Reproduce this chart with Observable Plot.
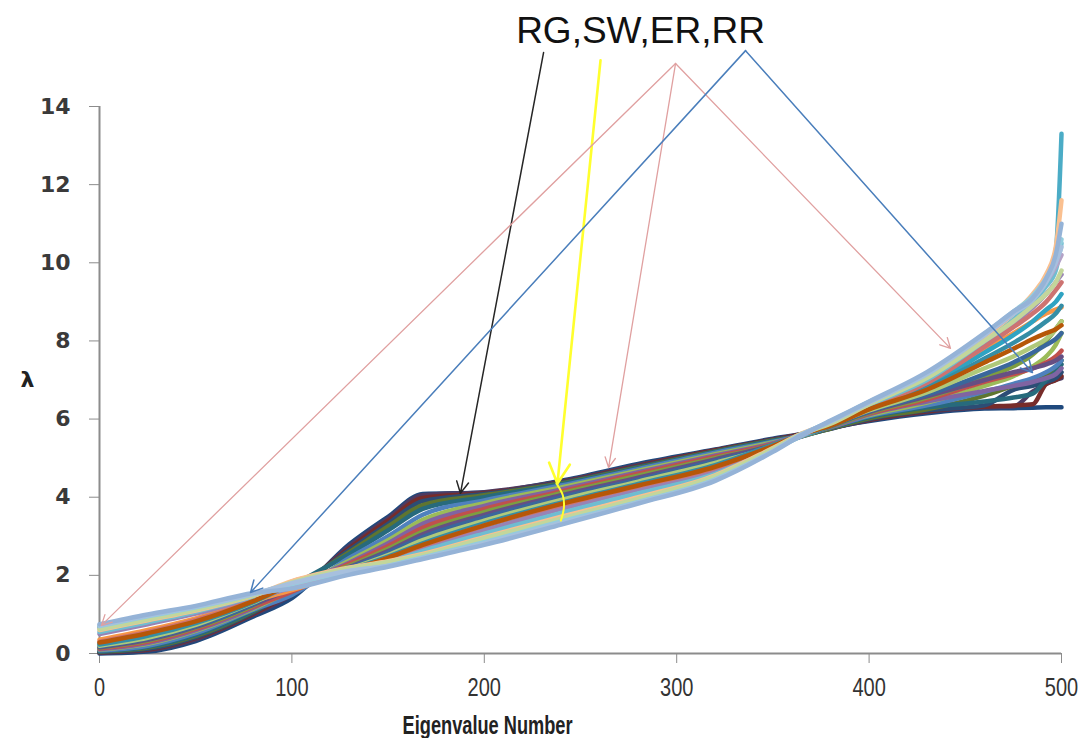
<!DOCTYPE html>
<html>
<head>
<meta charset="utf-8">
<script src="https://cdn.jsdelivr.net/npm/d3@7"></script>
<script src="https://cdn.jsdelivr.net/npm/@observablehq/plot@0.6"></script>
<style>
  html, body { margin: 0; padding: 0; background: #fff; }
  #chart svg { display: block; }
</style>
</head>
<body>
<div id="chart"></div>
<script>
// Eigenvalue index at which each spectrum is sampled
const eigenIndex = [0, 25, 50, 80, 100, 130, 150, 168, 200, 240, 280, 320, 350, 365, 380, 400, 430, 460, 475, 485, 492, 497, 500];

// Random geometric graphs
const rgSpectra = [
  [0, 0.05, 0.32, 0.95, 1.42, 2.8, 3.5, 4.08, 4.12, 4.42, 4.85, 5.22, 5.5, 5.62, 5.78, 5.95, 6.15, 6.27, 6.28, 6.29, 6.3, 6.3, 6.3],
  [0.02, 0.08, 0.36, 1.0, 1.5, 2.75, 3.45, 4.05, 4.13, 4.4, 4.82, 5.2, 5.48, 5.6, 5.76, 5.97, 6.18, 6.3, 6.32, 6.7, 6.9, 7.0, 7.05],
  [0.03, 0.1, 0.4, 1.02, 1.55, 2.7, 3.4, 3.98, 4.1, 4.38, 4.8, 5.2, 5.47, 5.61, 5.77, 5.98, 6.2, 6.32, 6.35, 6.38, 6.9, 7.0, 7.1],
  [0.04, 0.12, 0.42, 1.05, 1.6, 2.65, 3.32, 3.9, 4.08, 4.37, 4.78, 5.18, 5.46, 5.58, 5.75, 6.0, 6.22, 6.35, 6.75, 6.85, 6.95, 7.05, 7.2],
  [0.05, 0.15, 0.45, 1.08, 1.66, 2.6, 3.25, 3.8, 4.05, 4.35, 4.76, 5.17, 5.45, 5.57, 5.76, 6.02, 6.25, 6.6, 6.85, 7.0, 7.15, 7.3, 7.5],
  [0.06, 0.17, 0.48, 1.1, 1.72, 2.55, 3.15, 3.7, 4.0, 4.33, 4.74, 5.16, 5.44, 5.56, 5.78, 6.05, 6.3, 6.45, 6.55, 6.65, 7.0, 7.2, 7.4]
];

// Small-world graphs
const swSpectra = [
  [0.08, 0.2, 0.52, 1.12, 1.5, 2.45, 3.0, 3.55, 3.92, 4.3, 4.72, 5.14, 5.42, 5.58, 5.8, 6.08, 6.35, 6.7, 6.9, 7.05, 7.2, 7.35, 7.5],
  [0.1, 0.25, 0.58, 1.15, 1.62, 2.38, 2.9, 3.42, 3.85, 4.25, 4.68, 5.1, 5.4, 5.56, 5.82, 6.1, 6.42, 6.85, 7.1, 7.35, 7.6, 7.9, 8.2],
  [0.11, 0.27, 0.6, 1.17, 1.7, 2.33, 2.82, 3.32, 3.78, 4.2, 4.64, 5.07, 5.38, 5.6, 5.79, 6.12, 6.45, 6.72, 6.85, 6.95, 7.05, 7.15, 7.3],
  [0.13, 0.3, 0.63, 1.2, 1.58, 2.3, 2.75, 3.22, 3.7, 4.15, 4.6, 5.04, 5.36, 5.57, 5.83, 6.14, 6.5, 6.95, 7.15, 7.3, 7.45, 7.6, 7.75],
  [0.15, 0.33, 0.66, 1.23, 1.75, 2.25, 2.68, 3.12, 3.62, 4.1, 4.55, 5.0, 5.34, 5.59, 5.81, 6.16, 6.55, 7.05, 7.35, 7.65, 8.0, 8.3, 8.5],
  [0.16, 0.35, 0.68, 1.25, 1.66, 2.22, 2.62, 3.05, 3.55, 4.05, 4.5, 4.97, 5.33, 5.56, 5.84, 6.18, 6.58, 7.0, 7.2, 7.3, 7.4, 7.5, 7.6],
  [0.18, 0.38, 0.7, 1.27, 1.8, 2.2, 2.58, 2.98, 3.48, 4.0, 4.45, 4.93, 5.31, 5.58, 5.82, 6.2, 6.62, 7.15, 7.45, 7.7, 7.9, 8.05, 8.2],
  [0.2, 0.4, 0.73, 1.3, 1.72, 2.17, 2.52, 2.9, 3.4, 3.93, 4.4, 4.88, 5.3, 5.57, 5.85, 6.22, 6.68, 7.3, 7.6, 7.85, 8.05, 8.3, 8.5]
];

// Erdos-Renyi graphs
const erSpectra = [
  [0.35, 0.6, 0.9, 1.35, 1.62, 2.14, 2.46, 2.8, 3.3, 3.85, 4.32, 4.8, 5.32, 5.6, 5.86, 6.3, 6.9, 7.8, 8.2, 8.5, 8.7, 8.8, 8.86],
  [0.25, 0.5, 0.8, 1.33, 1.74, 2.12, 2.43, 2.75, 3.25, 3.8, 4.28, 4.76, 5.29, 5.57, 5.84, 6.28, 6.85, 7.7, 8.15, 8.5, 8.8, 9.0, 9.2],
  [0.23, 0.45, 0.78, 1.32, 1.8, 2.15, 2.48, 2.82, 3.33, 3.86, 4.34, 4.82, 5.34, 5.61, 5.87, 6.26, 6.8, 7.55, 7.95, 8.25, 8.5, 8.7, 8.9],
  [0.5, 0.75, 1.02, 1.42, 1.68, 2.1, 2.38, 2.68, 3.15, 3.7, 4.2, 4.68, 5.24, 5.58, 5.88, 6.33, 6.95, 7.9, 8.45, 8.85, 9.2, 9.5, 9.7],
  [0.3, 0.55, 0.86, 1.36, 1.84, 2.12, 2.44, 2.76, 3.27, 3.8, 4.28, 4.75, 5.3, 5.6, 5.86, 6.3, 6.92, 7.85, 8.35, 8.7, 9.0, 9.3, 9.5],
  [0.55, 0.8, 1.07, 1.45, 1.7, 2.08, 2.34, 2.62, 3.07, 3.6, 4.1, 4.6, 5.22, 5.57, 5.9, 6.36, 7.0, 8.0, 8.55, 9.0, 9.4, 9.8, 10.5],
  [0.28, 0.52, 0.82, 1.34, 1.76, 2.13, 2.45, 2.78, 3.28, 3.83, 4.3, 4.78, 5.31, 5.61, 5.83, 6.25, 6.75, 7.45, 7.8, 8.05, 8.2, 8.3, 8.4]
];

// Random regular graphs
const rrSpectra = [
  [0.68, 0.93, 1.17, 1.52, 1.7, 2.06, 2.26, 2.48, 2.88, 3.4, 3.9, 4.48, 5.2, 5.6, 5.92, 6.43, 7.15, 8.17, 8.72, 9.12, 9.6, 10.3, 13.3],
  [0.6, 0.85, 1.1, 1.48, 1.85, 2.2, 2.36, 2.55, 2.98, 3.5, 4.0, 4.56, 5.26, 5.63, 5.9, 6.4, 7.1, 8.1, 8.7, 9.2, 9.7, 10.4, 11.6],
  [0.65, 0.9, 1.15, 1.5, 1.72, 2.08, 2.28, 2.5, 2.9, 3.42, 3.94, 4.5, 5.22, 5.58, 5.94, 6.42, 7.12, 8.15, 8.7, 9.1, 9.5, 9.9, 10.2],
  [0.62, 0.87, 1.12, 1.49, 1.82, 2.18, 2.34, 2.52, 2.95, 3.46, 3.96, 4.54, 5.24, 5.62, 5.88, 6.38, 7.05, 8.0, 8.5, 8.9, 9.2, 9.5, 9.8],
  [0.7, 0.95, 1.18, 1.52, 1.78, 2.1, 2.25, 2.46, 2.85, 3.38, 3.88, 4.46, 5.18, 5.6, 5.95, 6.44, 7.15, 8.18, 8.75, 9.15, 9.6, 10.1, 10.6],
  [0.72, 0.97, 1.2, 1.53, 1.8, 2.12, 2.24, 2.44, 2.82, 3.34, 3.86, 4.44, 5.18, 5.61, 5.93, 6.42, 7.15, 8.15, 8.7, 9.05, 9.5, 10.0, 10.4],
  [0.75, 1.0, 1.22, 1.55, 1.66, 2.02, 2.22, 2.42, 2.78, 3.3, 3.84, 4.42, 5.16, 5.59, 5.96, 6.45, 7.2, 8.2, 8.75, 9.1, 9.6, 10.2, 11.0]
];

// Axis ticks
const xTicks = [0, 100, 200, 300, 400, 500];
const yTicks = [0, 2, 4, 6, 8, 10, 12, 14];

// Callout: label and pointer arrows (start -> end, in data units)
const calloutText = "RG,SW,ER,RR";
const calloutPos = [281.2, 15.92];
const pointerX1 = [230.8, 260.4, 299.4, 299.4, 299.4, 335.8, 335.8];
const pointerY1 = [15.38, 15.18, 15.10, 15.10, 15.10, 15.43, 15.43];
const pointerX2 = [187.6, 238.0, 1.0, 264.6, 442.3, 78.5, 484.9];
const pointerY2 = [4.10, 4.35, 0.72, 4.76, 7.81, 1.56, 7.19];
const braceX = [237.5, 240.8, 241.3, 239.8];
const braceY = [4.35, 4.05, 3.7, 3.4];

// Styling
const familyColors = [
  ["#1F497D", "#4D3B62", "#772C2A", "#2C4D75", "#5F7530", "#276A7C"],
  ["#4F81BD", "#9BBB59", "#8064A2", "#C0504D", "#7E9D40", "#664F83", "#3A679C", "#AFC97A"],
  ["#F79646", "#2FA3C2", "#358EA6", "#9983B5", "#CD7371", "#6FBDD1", "#B65708"],
  ["#4BACC6", "#FAC090", "#B3A2C7", "#C3D69B", "#93CDDD", "#A7C0DE", "#95B3D7"]
];
const pointerStroke = ["#262626", "#FFFF2E", "#E0A0A0", "#E0A0A0", "#E0A0A0", "#4A7EBB", "#4A7EBB"];
const pointerWidth = [1.5, 2.6, 1.3, 1.3, 1.3, 1.5, 1.5];

const families = [rgSpectra, swSpectra, erSpectra, rrSpectra];

const spectrumLines = families.flatMap((fam, f) =>
  fam.map((vals, i) =>
    Plot.line(vals, {
      x: (d, j) => eigenIndex[j],
      y: d => d,
      stroke: familyColors[f][i],
      strokeWidth: 4.5,
      strokeLinejoin: "round",
      strokeLinecap: "round",
      curve: "monotone-x"
    })
  )
);

const pointers = pointerX1.map((_, i) =>
  Plot.arrow([i], {
    x1: k => pointerX1[k],
    y1: k => pointerY1[k],
    x2: k => pointerX2[k],
    y2: k => pointerY2[k],
    stroke: pointerStroke[i],
    strokeWidth: pointerWidth[i],
    headLength: 13,
    headAngle: 55
  })
);

const axisGray = "#8c8c8c";

const chart = Plot.plot({
  width: 1086,
  height: 738,
  marginLeft: 99,
  marginRight: 25,
  marginTop: 106,
  marginBottom: 85,
  x: {domain: [0, 500]},
  y: {domain: [0, 14]},
  style: {background: "#fff", overflow: "visible"},
  marks: [
    Plot.axisY({
      ticks: yTicks, tickSize: 10, tickPadding: 19, label: null,
      stroke: axisGray, fill: "#3a3a3a",
      fontSize: 22, fontWeight: "bold", fontFamily: "DejaVu Sans"
    }),
    Plot.axisX({
      ticks: xTicks, tickSize: 10, tickPadding: 15, label: null,
      stroke: axisGray, fill: "#333",
      fontSize: 25, fontFamily: "Liberation Sans, Arial, sans-serif"
    }),
    Plot.ruleX([0], {stroke: axisGray, strokeWidth: 2}),
    Plot.ruleY([0], {stroke: axisGray, strokeWidth: 2}),
    ...spectrumLines,
    ...pointers,
    Plot.line(braceX, {x: d => d, y: (d, j) => braceY[j], stroke: "#FFFF2E", strokeWidth: 2, curve: "natural"}),
    Plot.text([calloutText], {
      x: calloutPos[0], y: calloutPos[1], text: d => d,
      fontSize: 37, fontFamily: "Liberation Sans, Arial, sans-serif",
      fill: "#111", textAnchor: "middle", lineAnchor: "middle"
    }),
    Plot.text(["Eigenvalue Number"], {
      x: 201.7, frameAnchor: "bottom", dy: 72, text: d => d,
      fontSize: 25, fontWeight: "bold",
      fontFamily: "Liberation Sans, Arial, sans-serif",
      fill: "#222", lineAnchor: "middle"
    }),
    Plot.text(["λ"], {
      y: 7, frameAnchor: "left", dx: -79, text: d => d,
      fontSize: 22, fontWeight: "bold", fontFamily: "DejaVu Sans",
      fill: "#222"
    })
  ]
});

document.getElementById("chart").appendChild(chart);

// Condensed lettering for the horizontal axis and its title
d3.select(chart).selectAll('g[aria-label="x-axis tick label"] text').each(function () {
  const w = this.getComputedTextLength();
  this.setAttribute("textLength", (w * 0.8).toFixed(1));
  this.setAttribute("lengthAdjust", "spacingAndGlyphs");
});
d3.select(chart).selectAll("text")
  .filter(function () { return this.textContent === "Eigenvalue Number"; })
  .attr("textLength", 170)
  .attr("lengthAdjust", "spacingAndGlyphs");
</script>
</body>
</html>
